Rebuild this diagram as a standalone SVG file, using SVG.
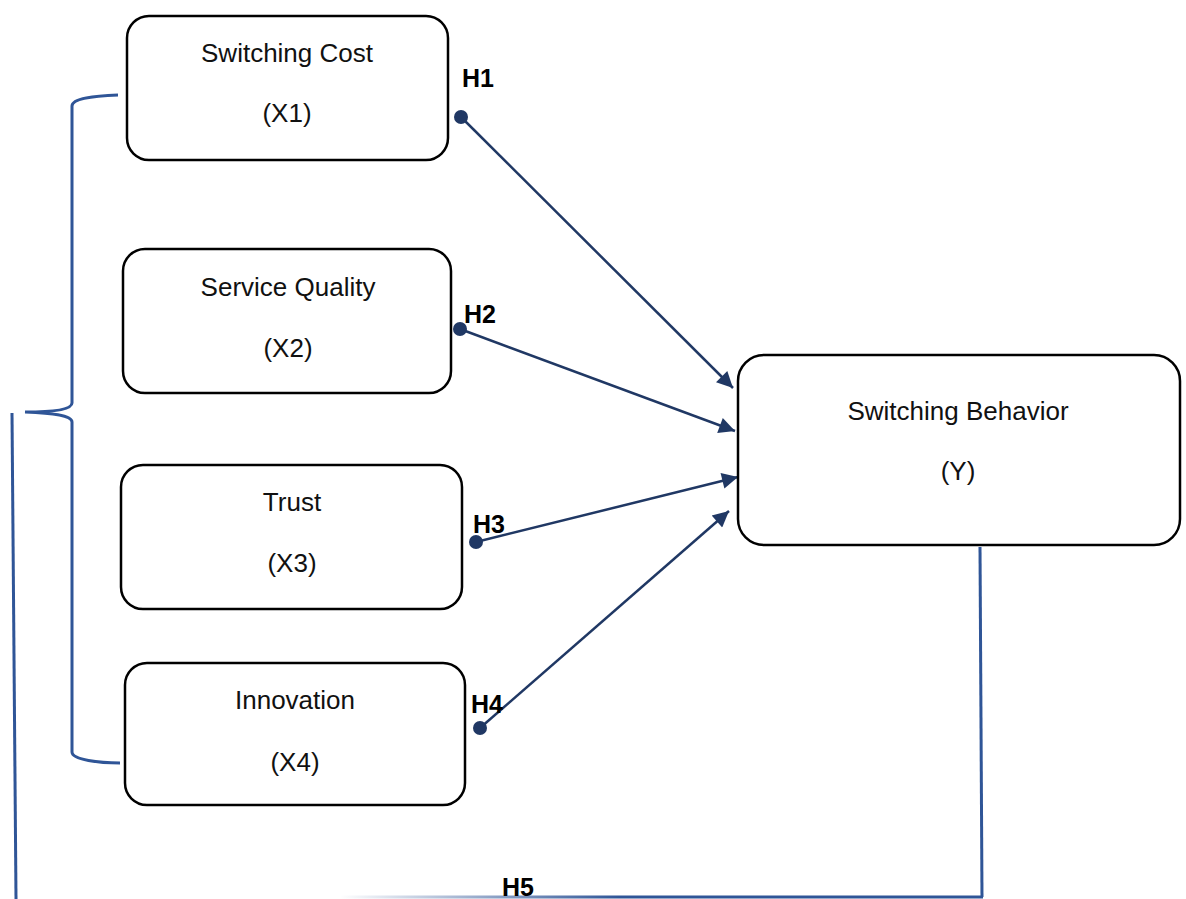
<svg xmlns="http://www.w3.org/2000/svg" width="1186" height="899" viewBox="0 0 1186 899">
<style>
.box{fill:#fff;stroke:#000;stroke-width:2.5}
.lbl{font-family:"Liberation Sans",Arial,sans-serif;font-size:26px;fill:#111;text-anchor:middle}
.h{font-family:"Liberation Sans",Arial,sans-serif;font-size:25px;font-weight:bold;fill:#000}
.arr{stroke:#203864;stroke-width:2.5;fill:none;marker-end:url(#ah)}
.dot{fill:#203864}
.blue{stroke:#2F5597;stroke-width:3;fill:none}
</style>
<defs>
<marker id="ah" viewBox="0 0 10 10" refX="10" refY="5" markerUnits="userSpaceOnUse" markerWidth="19" markerHeight="16" orient="auto">
<path d="M0,0 L10,5 L0,10 Z" fill="#203864"/>
</marker>
<linearGradient id="fade" x1="340" y1="0" x2="620" y2="0" gradientUnits="userSpaceOnUse">
<stop offset="0" stop-color="#2F5597" stop-opacity="0"/>
<stop offset="1" stop-color="#2F5597" stop-opacity="1"/>
</linearGradient>
</defs>
<rect width="1186" height="899" fill="#fff"/>
<g id="connectors">
<path class="blue" d="M118,95 C95,96 72,98 72,106 L72,403 C72,410 50,412 25,412 C50,413 72,415 72,422 L72,752 C72,760 100,763 120,763"/>
<line class="blue" x1="12" y1="413" x2="16" y2="899"/>
<line class="blue" x1="980" y1="547" x2="982" y2="897"/>
<line x1="340" y1="897" x2="983" y2="897" stroke="url(#fade)" stroke-width="3"/>
<line class="arr" x1="461" y1="117" x2="733" y2="388"/>
<circle class="dot" cx="461" cy="117" r="7"/>
<line class="arr" x1="460" y1="329" x2="735" y2="431"/>
<circle class="dot" cx="460" cy="329" r="7"/>
<line class="arr" x1="476" y1="542" x2="738" y2="477"/>
<circle class="dot" cx="476" cy="542" r="7"/>
<line class="arr" x1="480" y1="728" x2="729" y2="511"/>
<circle class="dot" cx="480" cy="728" r="7"/>
<text class="h" x="462" y="87">H1</text>
<text class="h" x="464" y="323">H2</text>
<text class="h" x="473" y="533">H3</text>
<text class="h" x="471" y="713">H4</text>
<text class="h" x="502" y="896">H5</text>
</g>
<g id="x1">
<rect class="box" x="127" y="16" width="321" height="144" rx="22"/>
<text class="lbl" x="287" y="62">Switching Cost</text>
<text class="lbl" x="287" y="122">(X1)</text>
</g>
<g id="x2">
<rect class="box" x="123" y="249" width="328" height="144" rx="22"/>
<text class="lbl" x="288" y="296">Service Quality</text>
<text class="lbl" x="288" y="357">(X2)</text>
</g>
<g id="x3">
<rect class="box" x="121" y="465" width="341" height="144" rx="22"/>
<text class="lbl" x="292" y="511">Trust</text>
<text class="lbl" x="292" y="572">(X3)</text>
</g>
<g id="x4">
<rect class="box" x="125" y="663" width="340" height="142" rx="22"/>
<text class="lbl" x="295" y="709">Innovation</text>
<text class="lbl" x="295" y="771">(X4)</text>
</g>
<g id="y">
<rect class="box" x="738" y="355" width="442" height="190" rx="26"/>
<text class="lbl" x="958" y="420">Switching Behavior</text>
<text class="lbl" x="958" y="480">(Y)</text>
</g>
</svg>
